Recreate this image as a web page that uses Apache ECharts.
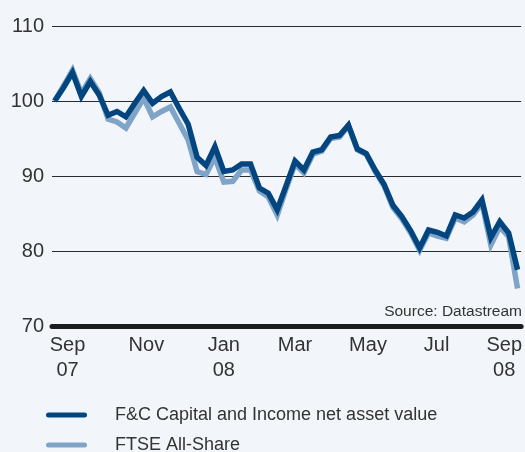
<!DOCTYPE html>
<html>
<head>
<meta charset="utf-8">
<script src="https://cdn.jsdelivr.net/npm/echarts@6/dist/echarts.min.js"></script>
<style>
html,body{margin:0;padding:0;background:#f2f6fa;}
#tu1{width:525px;height:452px;}
</style>
</head>
<body>
<div id="tu1"></div>
<script>
// weekly values, Sep 07 - Sep 08, rebased to 100
var nav = [100.0,101.8,103.8,100.6,102.6,100.8,98.1,98.6,97.9,99.7,
    101.4,99.7,100.6,101.2,99.0,96.9,92.5,91.4,93.9,90.6,
    90.8,91.6,91.6,88.4,87.7,85.5,88.7,92.0,90.8,93.2,
    93.5,95.2,95.4,96.8,93.6,93.0,90.8,88.9,86.1,84.6,
    82.7,80.4,82.8,82.5,82.0,84.8,84.4,85.2,86.8,81.8,
    83.9,82.4,77.5];
var ftse = [100.0,102.0,104.1,101.0,103.0,101.1,97.6,97.2,96.4,98.4,
    100.4,97.9,98.6,99.2,97.0,94.8,90.6,90.2,92.5,89.2,
    89.3,90.8,90.8,88.0,87.2,84.8,88.3,91.6,90.4,92.9,
    93.3,95.0,95.2,96.7,93.5,92.9,90.6,88.7,85.8,84.3,
    82.4,80.1,82.4,82.0,81.7,84.4,83.9,84.8,86.4,80.8,
    83.2,81.9,75.0];
// month labels and the week they sit at
var monthLabels = ['Sep\n07', 'Nov', 'Jan\n08', 'Mar', 'May', 'Jul', 'Sep\n08'];
var monthWeeks = [1.45, 10.3, 19, 27, 35.2, 42.9, 50.5];
var yTicks = [70, 80, 90, 100, 110];

var names = ['F&C Capital and Income net asset value', 'FTSE All-Share'];

function pairs(arr) {
    var out = [];
    for (var i = 0; i < arr.length; i++) {
        out.push([i, arr[i]]);
    }
    return out;
}

// pill shaped legend key
var pill = 'path://M2.5,0H38.5A2.5,2.5,0,0,1,38.5,5H2.5A2.5,2.5,0,0,1,2.5,0Z';

var myChart = echarts.init(document.getElementById('tu1'));
var font = '"Liberation Sans", Arial, sans-serif';
var option = {
    animation: false,
    backgroundColor: '#f2f6fa',
    textStyle: { fontFamily: font },
    title: {
        text: 'Source: Datastream',
        right: 3,
        top: 304,
        padding: 0,
        textStyle: { fontSize: 15.5, fontWeight: 'normal', color: '#333', fontFamily: font }
    },
    legend: {
        orient: 'vertical',
        left: 46,
        top: 405,
        height: 80,
        padding: 0,
        itemWidth: 41,
        itemHeight: 5,
        itemGap: 10,
        data: [
            { name: names[0], icon: pill },
            { name: names[1], icon: pill }
        ],
        textStyle: { fontSize: 18, lineHeight: 20, color: '#333', padding: [0, 0, 0, 23], fontFamily: font }
    },
    grid: {
        left: 52,
        right: 3,
        top: 26,
        bottom: 126
    },
    xAxis: {
        type: 'value',
        min: -0.3,
        max: 52.4,
        splitLine: { show: false },
        axisTick: { show: false },
        axisLine: { show: true, lineStyle: { color: '#1c1c1c', width: 5 } },
        axisLabel: {
            customValues: monthWeeks,
            margin: 7,
            fontSize: 20,
            lineHeight: 25,
            color: '#333',
            align: 'center',
            fontFamily: font,
            formatter: function (v) {
                var best = 0;
                for (var k = 1; k < monthWeeks.length; k++) {
                    if (Math.abs(monthWeeks[k] - v) < Math.abs(monthWeeks[best] - v)) best = k;
                }
                return monthLabels[best];
            }
        }
    },
    yAxis: {
        type: 'value',
        min: yTicks[0],
        max: yTicks[yTicks.length - 1],
        interval: 10,
        axisLine: { show: false },
        axisTick: { show: false },
        splitLine: { lineStyle: { color: '#2b2b2b', width: 1 } },
        axisLabel: {
            fontSize: 20,
            color: '#333',
            margin: 8,
            padding: [0, 0, 5, 0],
            fontFamily: font
        }
    },
    series: [
        {
            name: names[1],
            type: 'line',
            symbol: 'none',
            color: '#7fa4c7',
            lineStyle: { width: 5.5, join: 'miter' },
            data: pairs(ftse)
        },
        {
            name: names[0],
            type: 'line',
            symbol: 'none',
            color: '#03467f',
            z: 3,
            lineStyle: { width: 5.5, join: 'miter' },
            data: pairs(nav)
        }
    ]
};
myChart.setOption(option);
</script>
</body>
</html>
